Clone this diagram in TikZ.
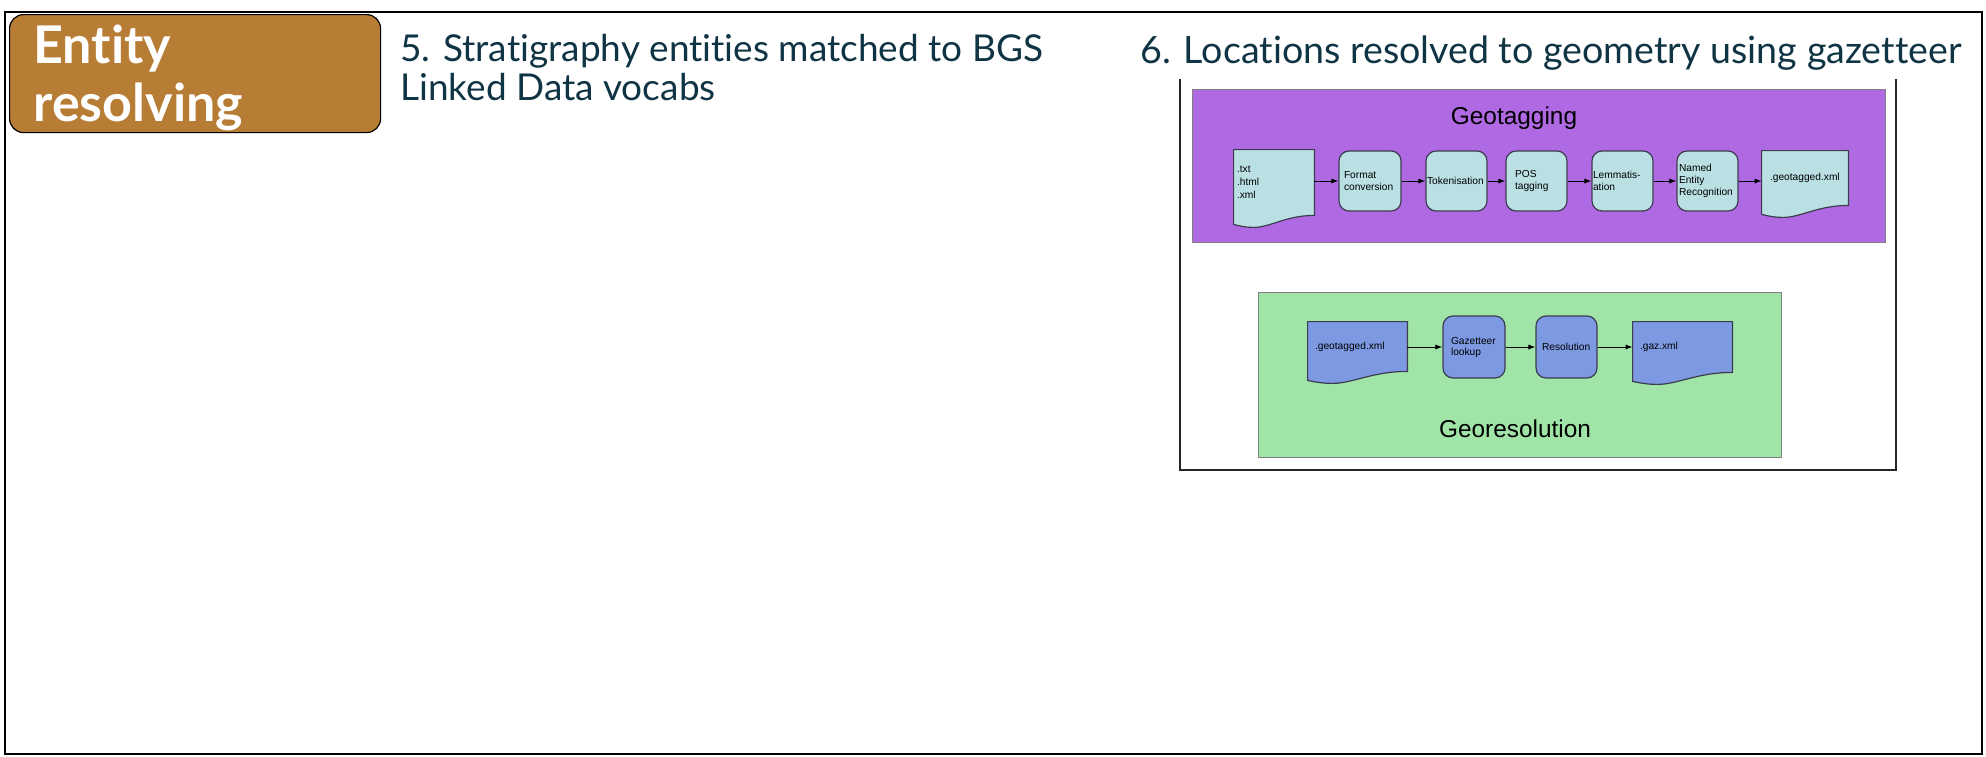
\documentclass[tikz,border=0pt]{standalone}
\usepackage{fontspec}
\setmainfont{Lato}[Ligatures=NoCommon]
\newfontfamily\arialf{Liberation Sans}
\usetikzlibrary{arrows.meta,calc}
\pgfdeclarelayer{back}
\pgfdeclarelayer{mid}
\pgfsetlayers{back,mid,main}
\definecolor{brownbox}{HTML}{B87D34}
\definecolor{titlecol}{HTML}{0F3444}
\definecolor{purp}{HTML}{AF69E2}
\definecolor{greenp}{HTML}{A0E4A8}
\definecolor{cyanb}{HTML}{BAE0E4}
\definecolor{blueb}{HTML}{7C99E2}
\definecolor{edgec}{HTML}{3C3C50}
\definecolor{panelgray}{HTML}{808080}
\tikzset{
  titletext/.style={text=titlecol, anchor=base west, inner sep=0pt, align=left},
  rbox/.style={draw=edgec, line width=0.6pt, rounded corners=5pt, minimum height=30pt, align=left,
    font=\arialf\fontsize{5.1pt}{5.85pt}\selectfont, inner ysep=0pt},
  docnode/.style={align=left, inner ysep=0pt, font=\arialf\fontsize{5.1pt}{5.85pt}\selectfont},
  docline/.style={draw=edgec, line width=0.6pt},
  arr/.style={-{Latex[length=3.5pt,width=2.6pt]}, line width=0.5pt, black},
  panelbox/.style={draw=panelgray, line width=0.4pt},
  bigcap/.style={font=\arialf\fontsize{12.2pt}{14pt}\selectfont, anchor=base, inner sep=0pt},
}
\newcommand\docwave[2]{%
\begin{pgfonlayer}{mid}
\draw[docline, fill=#2] (#1.north west) -- (#1.north east) -- (#1.south east)
 .. controls ($(#1.south east)!0.35!(#1.south west)$) and ($(#1.south east)!0.55!(#1.south west)+(0,12)$) .. ($(#1.south east)!0.75!(#1.south west)+(0,12)$)
 .. controls ($(#1.south east)!0.87!(#1.south west)+(0,12)$) and ($(#1.south east)!0.95!(#1.south west)+(0,10)$) .. ($(#1.south west)+(0,9)$) -- cycle;
\end{pgfonlayer}}
\begin{document}
\begin{tikzpicture}[x=0.5pt, y=-0.5pt]
\useasboundingbox (0,0) rectangle (1986,756);
% outer frame
\draw[line width=1.2pt] (5,12) rectangle (1982,754);
% entity resolving box
\node[draw=black, line width=0.6pt, fill=brownbox, rounded corners=7pt, minimum width=185.5pt, minimum height=59pt, anchor=north west, inner sep=0pt] (er) at (9,14) {};
\node[anchor=base west, inner sep=0pt, align=left, text=white, font=\bfseries\fontsize{26pt}{29pt}\selectfont] (ertxt) at (33,121) {Entity\\resolving};
% titles
\node[titletext, font=\fontsize{18.5pt}{19.5pt}\selectfont] (t5) at (400,100) {5. Stratigraphy entities matched to BGS\\Linked Data vocabs};
\node[titletext, font=\fontsize{18.8pt}{19.5pt}\selectfont] (t6) at (1140,63) {6. Locations resolved to geometry using gazetteer};
% panel
\begin{pgfonlayer}{back}
\draw[line width=0.9pt, draw=black!85] (1180,79) -- (1180,470) -- (1896,470) -- (1896,79);
\path[panelbox, fill=purp] (1192,89) rectangle (1885,242);
\path[panelbox, fill=greenp] (1258,292) rectangle (1781,457);
\end{pgfonlayer}
\node[bigcap] (geotag) at (1514,124) {Geotagging};
\node[bigcap] (georesol) at (1515,437) {Georesolution};
% geotagging pipeline
\node[docnode, font=\arialf\fontsize{5.1pt}{6.5pt}\selectfont, inner xsep=1.5pt, text width=37pt, minimum height=32.5pt] (txt) at (1274,182.5) {.txt\\.html\\.xml};
\docwave{txt}{cyanb}
\node[rbox, fill=cyanb, inner xsep=2.5pt, text width=26pt] (fmt) at (1370,181) {Format\\conversion};
\node[rbox, fill=cyanb, inner xsep=0.5pt, text width=29.5pt] (tok) at (1456.5,181) {Tokenisation};
\node[rbox, fill=cyanb, inner xsep=4.5pt, text width=21.5pt] (pos) at (1536.5,181) {POS\\tagging};
\node[rbox, fill=cyanb, inner xsep=0.5pt, text width=29.5pt] (lem) at (1622.5,181) {Lemmatis-\\ation};
\node[rbox, fill=cyanb, inner xsep=1pt, text width=28.5pt] (ner) at (1707.5,181) {Named\\Entity\\Recognition};
\node[docnode, inner xsep=4pt, text width=35pt, minimum height=27pt] (geo1) at (1805,178) {.geotagged.xml};
\docwave{geo1}{cyanb}
\draw[arr] (txt.east |- fmt.west) -- (fmt.west);
\draw[arr] (fmt.east) -- (tok.west);
\draw[arr] (tok.east) -- (pos.west);
\draw[arr] (pos.east) -- (lem.west);
\draw[arr] (lem.east) -- (ner.west);
\draw[arr] (ner.east) -- (ner.east -| geo1.west);
% georesolution pipeline
\node[docnode, inner xsep=3.5pt, text width=42.5pt, minimum height=24.5pt] (gdoc) at (1357.5,346.5) {.geotagged.xml};
\docwave{gdoc}{blueb}
\node[rbox, fill=blueb, minimum height=31pt, inner xsep=4pt, text width=23pt, font=\arialf\fontsize{5.1pt}{5.5pt}\selectfont] (gaz) at (1474,347) {Gazetteer\\lookup};
\node[rbox, fill=blueb, minimum height=31pt, inner xsep=3pt, text width=24.5pt] (res) at (1566.5,347) {Resolution};
\node[docnode, inner xsep=3.5pt, text width=42.5pt, minimum height=25pt] (gxml) at (1682.5,347) {.gaz.xml};
\docwave{gxml}{blueb}
\draw[arr] (gdoc.east |- gaz.west) -- (gaz.west);
\draw[arr] (gaz.east) -- (res.west);
\draw[arr] (res.east) -- (res.east -| gxml.west);
\end{tikzpicture}
\end{document}
